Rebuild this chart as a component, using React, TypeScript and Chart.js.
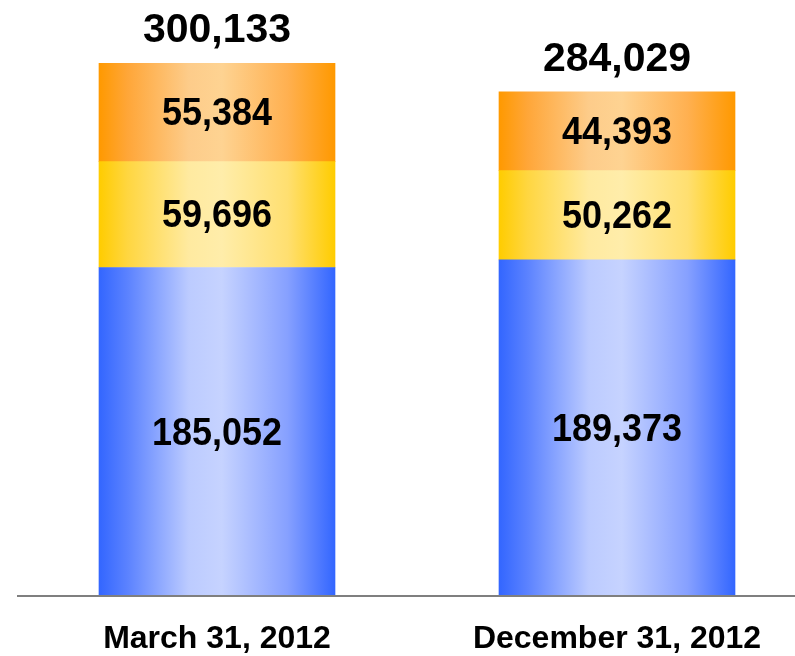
import React, { useEffect, useRef } from "react";
import { Chart, registerables } from "chart.js";

Chart.register(...registerables);

const categories = ["March 31, 2012", "December 31, 2012"];
const bottomSeries = [185052, 189373];
const middleSeries = [59696, 50262];
const topSeries = [55384, 44393];
const totals = [300133, 284029];

const FONT = "'Liberation Sans', Arial, Helvetica, sans-serif";
const BAR_W = 236;

const blueStops: [number, string][] = [
  [0, "#3366ff"],
  [0.12, "#5b82ff"],
  [0.38, "#bccbff"],
  [0.52, "#c6d3ff"],
  [0.8, "#86a0ff"],
  [1, "#3366ff"],
];
const yellowStops: [number, string][] = [
  [0, "#ffcc00"],
  [0.12, "#ffd640"],
  [0.38, "#ffeaa0"],
  [0.52, "#ffedaa"],
  [0.8, "#ffdf70"],
  [1, "#ffcc00"],
];
const orangeStops: [number, string][] = [
  [0, "#ff9900"],
  [0.12, "#ffa638"],
  [0.38, "#fdcc8a"],
  [0.52, "#fed392"],
  [0.8, "#ffb050"],
  [1, "#ff9900"],
];

function gradientFor(stops: [number, string][]) {
  return (ctx: any) => {
    const chart = ctx.chart;
    const xs = chart.scales && chart.scales.x;
    if (!chart.chartArea || !xs || ctx.dataIndex === undefined) return stops[0][1];
    const cx = xs.getPixelForValue(ctx.dataIndex);
    const g = chart.ctx.createLinearGradient(cx - BAR_W / 2, 0, cx + BAR_W / 2, 0);
    stops.forEach(([o, c]) => g.addColorStop(o, c));
    return g;
  };
}

const labelsPlugin = {
  id: "labelsPlugin",
  afterDatasetsDraw(chart: any) {
    const c = chart.ctx;
    const ys = chart.scales.y;
    // axis line
    c.save();
    c.strokeStyle = "#7f7f7f";
    c.lineWidth = 2;
    c.beginPath();
    const by = Math.round(ys.getPixelForValue(0));
    c.moveTo(17, by);
    c.lineTo(chart.width, by);
    c.stroke();

    c.fillStyle = "#000";
    c.textAlign = "center";
    c.textBaseline = "middle";
    c.font = `bold 36px ${FONT}`;
    chart.data.datasets.forEach((ds: any, di: number) => {
      const meta = chart.getDatasetMeta(di);
      meta.data.forEach((el: any, i: number) => {
        const v = ds.data[i];
        c.save();
        c.translate(el.x, (el.y + el.base) / 2 + 2);
        c.scale(1, 1.1);
        c.fillText(v.toLocaleString("en-US"), 0, 0);
        c.restore();
      });
    });
    const topMeta = chart.getDatasetMeta(chart.data.datasets.length - 1);
    c.font = `bold 41px ${FONT}`;
    c.textBaseline = "alphabetic";
    topMeta.data.forEach((el: any, i: number) => {
      c.fillText(totals[i].toLocaleString("en-US"), el.x, el.y - 21);
    });
    c.restore();
  },
};

export default function App() {
  const ref = useRef<HTMLCanvasElement | null>(null);
  useEffect(() => {
    if (!ref.current) return;
    const chart = new Chart(ref.current, {
      type: "bar",
      data: {
        labels: categories,
        datasets: [
          { data: bottomSeries, backgroundColor: gradientFor(blueStops), clip: false as any },
          { data: middleSeries, backgroundColor: gradientFor(yellowStops), clip: false as any },
          { data: topSeries, backgroundColor: gradientFor(orangeStops), clip: false as any },
        ],
      },
      options: {
        responsive: false,
        animation: false,
        layout: { padding: { left: 217, right: 178, top: 28, bottom: 0 } },
        datasets: { bar: { barThickness: BAR_W, borderWidth: 0 } },
        plugins: { legend: { display: false }, tooltip: { enabled: false } },
        scales: {
          x: {
            stacked: true,
            offset: false,
            grid: { display: false, drawTicks: false },
            border: { display: false },
            afterFit: (s: any) => {
              s.height = 60;
            },
            ticks: {
              maxRotation: 0,
              autoSkip: false,
              padding: 24,
              color: "#000",
              font: { family: FONT, size: 32, weight: "bold" },
            },
          },
          y: {
            stacked: true,
            display: false,
            min: 0,
            max: 320000,
          },
        },
      },
      plugins: [labelsPlugin],
    });
    return () => chart.destroy();
  }, []);
  return (
    <div style={{ position: "fixed", left: 0, top: 0, width: 795, height: 656, background: "#fff" }}>
      <canvas ref={ref} width={795} height={656} style={{ display: "block" }} />
    </div>
  );
}
